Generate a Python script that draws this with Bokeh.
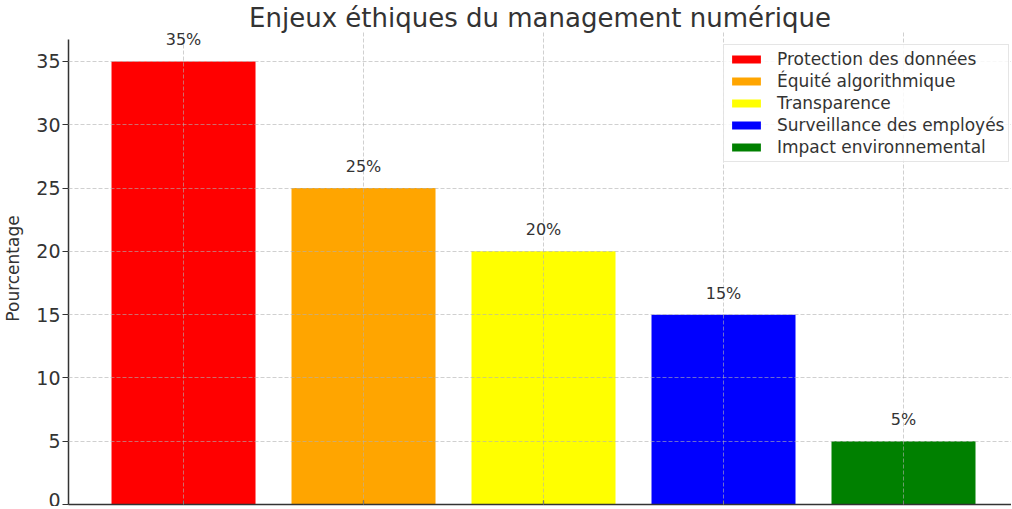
from bokeh.plotting import figure
from bokeh.models import ColumnDataSource, FixedTicker, Range1d, LabelSet
from bokeh.core.properties import value
from bokeh.embed import file_html
from bokeh.resources import INLINE

categories = ["Protection des données", "Équité algorithmique", "Transparence",
              "Surveillance des employés", "Impact environnemental"]
percentages = [35, 25, 20, 15, 5]
colors = ["#ff0000", "#ffa500", "#ffff00", "#0000ff", "#008000"]
y_ticks = [0, 5, 10, 15, 20, 25, 30, 35]

FONT = "DejaVu Sans"
TXT = "#333333"

positions = list(range(len(categories)))
source = ColumnDataSource(dict(
    x=positions,
    top=percentages,
    cat=categories,
    color=colors,
    label=[f"{v}%" for v in percentages],
))

p = figure(frame_width=943, frame_height=472,
           x_range=Range1d(-0.639, 4.6), y_range=Range1d(0, 37.29),
           output_backend="svg", toolbar_location=None,
           min_border_left=0, min_border_right=0, min_border_top=22, min_border_bottom=2)

p.title.text = "Enjeux éthiques du management numérique"
p.title.align = "center"
p.title.text_font = FONT
p.title.text_font_size = "26px"
p.title.text_font_style = "normal"
p.title.text_color = TXT
p.title.text_line_height = 0.85
p.title.offset = 0
p.title.standoff = 0

p.vbar(x="x", top="top", width=0.8, bottom=0, source=source,
       fill_color="color", line_color=None, legend_field="cat")

labels = LabelSet(x="x", y="top", text="label", source=source,
                  text_align="center", text_baseline="bottom", y_offset=12,
                  text_font=value(FONT), text_font_size="16px", text_color=TXT)
p.add_layout(labels)

# axes
p.yaxis.ticker = FixedTicker(ticks=y_ticks)
p.yaxis.bounds = (0, 36.75)
p.yaxis.axis_label = "Pourcentage"
p.yaxis.axis_label_text_font = FONT
p.yaxis.axis_label_text_font_size = "17px"
p.yaxis.axis_label_text_font_style = "normal"
p.yaxis.axis_label_text_color = TXT
p.yaxis.axis_label_standoff = 10
p.yaxis.major_label_text_font = FONT
p.yaxis.major_label_text_font_size = "19px"
p.yaxis.major_label_text_color = TXT
p.yaxis.major_label_standoff = 2
p.yaxis.major_tick_out = 6
p.yaxis.major_tick_in = 0
p.yaxis.minor_tick_out = 0
p.yaxis.minor_tick_in = 0

p.xaxis.ticker = FixedTicker(ticks=positions)
p.xaxis.major_label_overrides = {i: "" for i in positions}
p.xaxis.major_label_text_font_size = "0px"
p.xaxis.major_label_standoff = 0
p.xaxis.major_tick_out = 0
p.xaxis.major_tick_in = 4
p.xaxis.minor_tick_out = 0

for ax in (p.xaxis, p.yaxis):
    ax.axis_line_color = "#333333"
    ax.axis_line_width = 1.5
    ax.major_tick_line_color = "#333333"
    ax.major_tick_line_width = 1.2

p.outline_line_color = None

# grid over the bars
for g in (p.xgrid, p.ygrid):
    g.grid_line_color = "#b0b0b0"
    g.grid_line_alpha = 0.6
    g.grid_line_dash = "4 2"
    g.grid_line_width = 1
    g.level = "annotation"
p.xgrid.ticker = FixedTicker(ticks=positions)
p.ygrid.ticker = FixedTicker(ticks=y_ticks)

leg = p.legend[0]
leg.location = (655, 342)
leg.margin = 0
leg.padding = 4
leg.spacing = 2
leg.label_height = 20
leg.glyph_height = 10
leg.glyph_width = 36
leg.label_standoff = 13
leg.label_text_font = FONT
leg.label_text_font_size = "17px"
leg.label_text_color = TXT
leg.border_line_color = "#cccccc"
leg.border_line_width = 1
leg.background_fill_alpha = 0.85
leg.level = "overlay"

open("out.html", "w").write(file_html(p, INLINE))
